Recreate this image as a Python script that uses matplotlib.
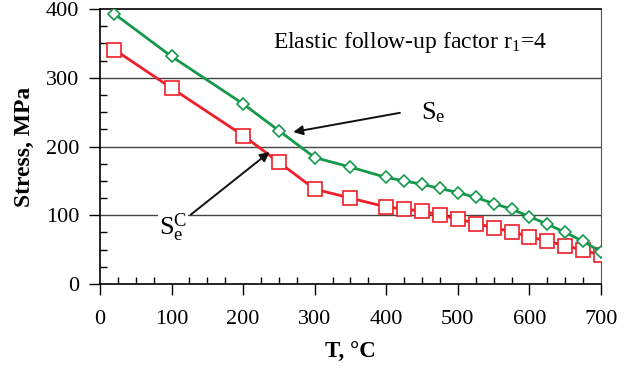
import numpy as np
import matplotlib.pyplot as plt
from matplotlib.ticker import MultipleLocator

# temperatures, C
T = [20, 100, 200, 250, 300, 350, 400, 425, 450, 475, 500, 525, 550, 575,
     600, 625, 650, 675, 700]
# S_e (green diamonds)
Se = [393, 331, 262, 223, 184, 170, 155, 150, 145, 139, 133, 126, 117, 109,
      98, 87, 75, 62, 47]
# S^C_e (red squares)
SCe = [341, 285, 216, 177, 138, 125, 112, 109, 106, 100, 95, 88, 82, 76,
       69, 62, 56, 49, 42]

plt.rcParams['font.family'] = ['Liberation Serif', 'DejaVu Serif']
plt.rcParams['mathtext.fontset'] = 'custom'
plt.rcParams['mathtext.rm'] = 'Liberation Serif'
plt.rcParams['mathtext.it'] = 'Liberation Serif'

fig = plt.figure(figsize=(6.43, 3.71), dpi=100)
ax = fig.add_axes([0.1555, 0.2345, 0.7792, 0.7412])

green = '#14994a'
red = '#ee1f2a'

ax.plot(T, Se, color=green, lw=2, marker='D', ms=6, mfc='white',
        mec=green, mew=1.2, zorder=4)
ax.plot(T, SCe, color=red, lw=2, marker='s', ms=10, mfc='white',
        mec=red, mew=1.2, zorder=3)

ax.set_xlim(0, 700)
ax.set_ylim(0, 400)
ax.xaxis.set_major_locator(MultipleLocator(100))
ax.xaxis.set_minor_locator(MultipleLocator(25))
ax.yaxis.set_major_locator(MultipleLocator(100))
ax.yaxis.set_minor_locator(MultipleLocator(25))
ax.tick_params(which='major', direction='out', length=8, width=1,
               labelsize=16, pad=7)
ax.tick_params(which='minor', direction='in', length=5, width=1)
ax.tick_params(axis='x', which='major', pad=11)

for y in [100, 200, 300]:
    ax.axhline(y, color='#444444', lw=1, zorder=1)
for s in ['left', 'bottom', 'top']:
    ax.spines[s].set_color('black')
    ax.spines[s].set_linewidth(1.2)
ax.spines['right'].set_color('#555555')

ax.set_xlabel('T, °C', fontsize=16.5, fontweight='bold', labelpad=9)
ax.set_ylabel('Stress, MPa', fontsize=17, fontweight='bold', labelpad=8)

ax.text(433, 352, 'Elastic follow-up factor r$_1$=4', fontsize=17,
        ha='center', va='center')

ax.annotate('', xy=(270, 221), xytext=(419, 249),
            arrowprops=dict(arrowstyle='-|>', color='#111111', lw=1.4,
                            mutation_scale=14, shrinkA=0, shrinkB=0))
ax.text(449, 249, r'$\mathregular{S_e}$', fontsize=19, ha='left', va='center')

ax.annotate('', xy=(237, 192), xytext=(127, 101),
            arrowprops=dict(arrowstyle='-|>', color='#111111', lw=1.4,
                            mutation_scale=14, shrinkA=0, shrinkB=0))
ax.text(102, 82, r'$\mathregular{S^C_e}$', fontsize=19, ha='center',
        va='center', zorder=5,
        bbox=dict(facecolor='white', edgecolor='none', pad=1))

fig.savefig('out.png', dpi=100)
